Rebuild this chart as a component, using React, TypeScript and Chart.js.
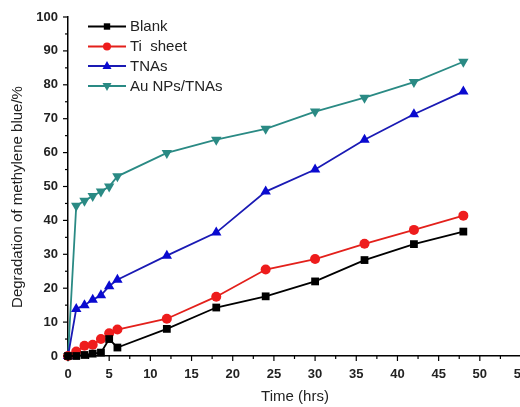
import React, { useEffect, useRef } from "react";
import { Chart, registerables } from "chart.js";

Chart.register(...registerables);

const times = [0, 1, 2, 3, 4, 5, 6, 12, 18, 24, 30, 36, 42, 48];
const blank = [0, 0, 0.3, 0.7, 1, 5, 2.5, 8, 14.3, 17.6, 22, 28.3, 33, 36.7];
const tiSheet = [0, 1.3, 3, 3.3, 5, 6.7, 7.8, 11, 17.5, 25.5, 28.6, 33.1, 37.2, 41.4];
const tnas = [0, 13.9, 15, 16.6, 17.9, 20.6, 22.5, 29.6, 36.4, 48.5, 55, 63.8, 71.3, 78];
const auTnas = [0, 44.3, 45.8, 47.2, 48.5, 50, 53, 59.9, 63.8, 67, 72.1, 76.2, 80.8, 86.8];

const seriesNames = ["Blank", "Ti  sheet", "TNAs", "Au NPs/TNAs"];
const seriesColors = ["#000000", "#e3201b", "#1a1ab4", "#2a8a84"];
const markerColors = ["#000000", "#ee1c1c", "#0a0ad0", "#2a8a84"];
const markerStyles = ["rect", "circle", "triangle", "triangle"];
const markerRotations = [0, 0, 0, 180];
const markerRadii = [5.5, 5, 6, 6];
const legendRadii = [3.2, 4, 5, 5];

const xTitle = "Time (hrs)";
const yTitle = "Degradation of methylene blue/%";
const FONT = 'Arial, "Liberation Sans", sans-serif';

function drawMarker(ctx: CanvasRenderingContext2D, style: string, rot: number, r: number, x: number, y: number, color: string) {
  ctx.save();
  ctx.fillStyle = color;
  ctx.beginPath();
  if (style === "rect") {
    ctx.rect(x - r, y - r, 2 * r, 2 * r);
  } else if (style === "circle") {
    ctx.arc(x, y, r, 0, Math.PI * 2);
  } else {
    const s = rot === 180 ? -1 : 1;
    ctx.moveTo(x, y - s * r);
    ctx.lineTo(x + r * 0.9, y + s * r * 0.6);
    ctx.lineTo(x - r * 0.9, y + s * r * 0.6);
    ctx.closePath();
  }
  ctx.fill();
  ctx.restore();
}

const decorPlugin = {
  id: "decor",
  afterDraw(chart: any) {
    const ctx: CanvasRenderingContext2D = chart.ctx;
    const xs = chart.scales.x;
    const ys = chart.scales.y;
    const area = chart.chartArea;
    ctx.save();
    ctx.strokeStyle = "#000";
    ctx.lineWidth = 1.2;
    for (let v = 0; v <= 55.001; v += 2.5) {
      const px = xs.getPixelForValue(v);
      const major = Math.abs(v % 5) < 0.01;
      ctx.beginPath();
      ctx.moveTo(px, area.bottom);
      ctx.lineTo(px, area.bottom + (major ? 5 : 3));
      ctx.stroke();
    }
    for (let v = 0; v <= 100.001; v += 5) {
      const py = ys.getPixelForValue(v);
      const major = Math.abs(v % 10) < 0.01;
      ctx.beginPath();
      ctx.moveTo(area.left, py);
      ctx.lineTo(area.left - (major ? 5 : 3), py);
      ctx.stroke();
    }
    ctx.fillStyle = "#222";
    ctx.font = `15px ${FONT}`;
    ctx.textAlign = "center";
    ctx.textBaseline = "middle";
    ctx.fillText(xTitle, 295, 397);
    ctx.save();
    ctx.translate(18, 197);
    ctx.rotate(-Math.PI / 2);
    ctx.fillText(yTitle, 0, 0);
    ctx.restore();
    const rows = [26.5, 46.5, 66, 86];
    ctx.textAlign = "left";
    for (let i = 0; i < seriesNames.length; i++) {
      const y = rows[i];
      ctx.strokeStyle = seriesColors[i];
      ctx.lineWidth = 1.8;
      ctx.beginPath();
      ctx.moveTo(88, y);
      ctx.lineTo(126, y);
      ctx.stroke();
      drawMarker(ctx, markerStyles[i], markerRotations[i], legendRadii[i], 107, y, markerColors[i]);
      ctx.fillStyle = "#222";
      ctx.font = `15px ${FONT}`;
      ctx.fillText(seriesNames[i], 130, y + 0.5);
    }
    ctx.restore();
  },
};

export default function App() {
  const ref = useRef<HTMLCanvasElement>(null);
  useEffect(() => {
    if (!ref.current) return;
    const all = [blank, tiSheet, tnas, auTnas];
    const chart = new Chart(ref.current, {
      type: "line",
      data: {
        datasets: all.map((vals, i) => ({
          label: seriesNames[i],
          data: times.map((t, j) => ({ x: t, y: vals[j] })),
          borderColor: seriesColors[i],
          backgroundColor: markerColors[i],
          pointBackgroundColor: markerColors[i],
          pointBorderColor: markerColors[i],
          pointBorderWidth: 0,
          borderWidth: 1.8,
          pointStyle: markerStyles[i] as any,
          pointRotation: markerRotations[i],
          pointRadius: markerRadii[i],
          tension: 0,
          clip: false as any,
        })),
      },
      options: {
        responsive: false,
        animation: false,
        devicePixelRatio: 1,
        layout: { padding: { top: 17, right: 24, left: 0, bottom: 0 } },
        plugins: { legend: { display: false }, tooltip: { enabled: false } },
        scales: {
          x: {
            type: "linear",
            min: 0,
            max: 55,
            grid: { display: false },
            border: { display: true, color: "#000", width: 1.5 },
            ticks: {
              stepSize: 5,
              padding: 3,
              color: "#222",
              font: { family: FONT, size: 13, weight: "bold" },
              maxRotation: 0,
              autoSkip: false,
            },
            afterFit: (s: any) => {
              s.height = 51;
            },
          },
          y: {
            type: "linear",
            min: 0,
            max: 100,
            grid: { display: false },
            border: { display: true, color: "#000", width: 1.5 },
            ticks: {
              stepSize: 10,
              padding: 2,
              color: "#222",
              font: { family: FONT, size: 13, weight: "bold" },
            },
            afterFit: (s: any) => {
              s.width = 68;
            },
          },
        },
      },
      plugins: [decorPlugin],
    });
    return () => chart.destroy();
  }, []);
  return (
    <div style={{ position: "fixed", left: 0, top: 0, width: 520, height: 407, overflow: "hidden", background: "#fff" }}>
      <canvas ref={ref} width={545} height={407} style={{ width: 545, height: 407, display: "block" }} />
    </div>
  );
}
